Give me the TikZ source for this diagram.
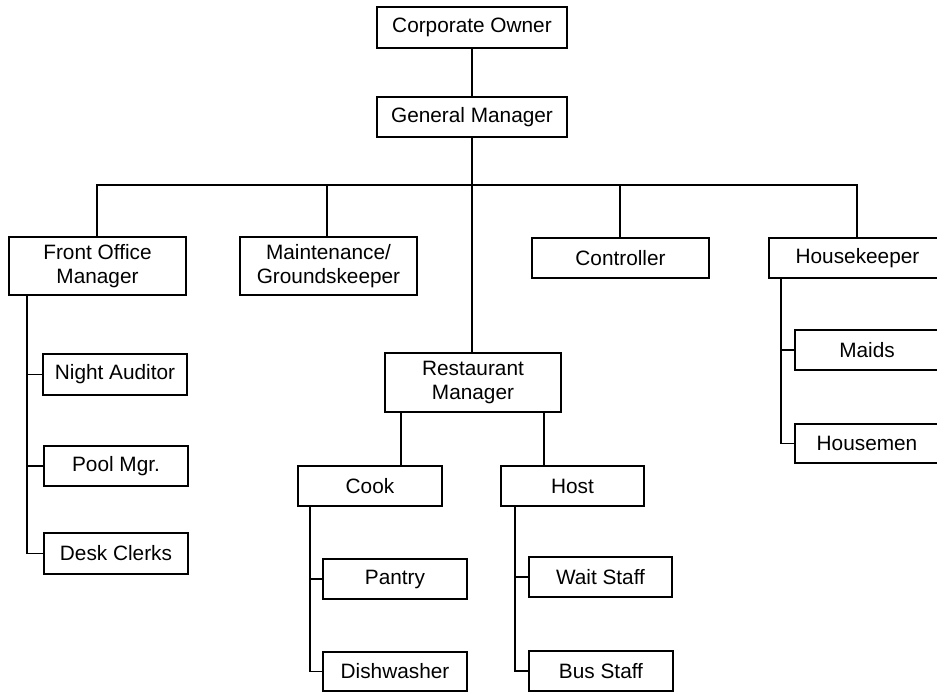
\documentclass[tikz,border=0pt]{standalone}
\usepackage{fontspec}
\setmainfont{Liberation Sans}
\begin{document}
\begin{tikzpicture}[x=1pt,y=-1pt,
  box/.style={draw, line width=1.6pt, inner sep=0pt, align=center,
    font=\fontsize{20.8}{23.5}\selectfont},
  link/.style={line width=1.6pt}]
\useasboundingbox (0,0) rectangle (937,693);
\clip (0,0) rectangle (937,693);
\node[box, minimum width=190, minimum height=41] (co) at (472,27.5) {Corporate Owner};
\node[box, minimum width=190, minimum height=40] (gm) at (472,117) {General Manager};
\node[box, minimum width=177, minimum height=58] (fom) at (97.5,266) {Front Office\\Manager};
\node[box, minimum width=177, minimum height=58] (mg) at (328.5,266) {Maintenance/\\Groundskeeper};
\node[box, minimum width=177, minimum height=40] (ctl) at (620.5,258) {Controller};
\node[box, minimum width=177, minimum height=40] (hk) at (857.5,258) {Housekeeper};
\node[box, minimum width=144, minimum height=41] (na) at (115,374.5) {Night Auditor};
\node[box, minimum width=144, minimum height=40] (pm) at (116,466) {Pool Mgr.};
\node[box, minimum width=144, minimum height=41] (dc) at (116,553.5) {Desk Clerks};
\node[box, minimum width=176, minimum height=59] (rm) at (473,382.5) {Restaurant\\Manager};
\node[box, minimum width=144, minimum height=40] (cook) at (370,486) {Cook};
\node[box, minimum width=143, minimum height=40] (host) at (572.5,486) {Host};
\node[box, minimum width=144, minimum height=40] (pantry) at (395,579) {Pantry};
\node[box, minimum width=144, minimum height=39] (dish) at (395,671.5) {Dishwasher};
\node[box, minimum width=143, minimum height=40] (wait) at (600.5,577) {Wait Staff};
\node[box, minimum width=144, minimum height=40] (bus) at (601,671) {Bus Staff};
\node[box, minimum width=144, minimum height=40] (maids) at (867,350) {Maids};
\node[box, minimum width=144, minimum height=39] (housemen) at (867,443.5) {Housemen};
\coordinate (busline) at (472,185);
\draw[link] (co.south) -- (gm.north);
\draw[link] (gm.south) -- (gm.south |- rm.north);
\draw[link] (fom.north -| 97,0) -- (97,185) -- (857,185) -- (hk.north -| 857,0);
\draw[link] (mg.north -| 327,0) -- (327,185);
\draw[link] ([xshift=-0.5pt]ctl.north) -- ([xshift=-0.5pt]ctl.north |- busline);
% front office spine
\draw[link] ([xshift=19pt]fom.south west) |- (na.west);
\draw[link] ([xshift=19pt]fom.south west) |- (pm.west);
\draw[link] ([xshift=19pt]fom.south west) |- (dc.west);
% restaurant
\draw[link] ([xshift=17pt]rm.south west) -- ([xshift=17pt]rm.south west |- cook.north);
\draw[link] ([xshift=-18pt]rm.south east) -- ([xshift=-18pt]rm.south east |- host.north);
\draw[link] ([xshift=13pt]cook.south west) |- (pantry.west);
\draw[link] ([xshift=13pt]cook.south west) |- (dish.west);
\draw[link] ([xshift=15pt]host.south west) |- (wait.west);
\draw[link] ([xshift=15pt]host.south west) |- (bus.west);
% housekeeper
\draw[link] ([xshift=13pt]hk.south west) |- (maids.west);
\draw[link] ([xshift=13pt]hk.south west) |- (housemen.west);
\end{tikzpicture}
\end{document}
